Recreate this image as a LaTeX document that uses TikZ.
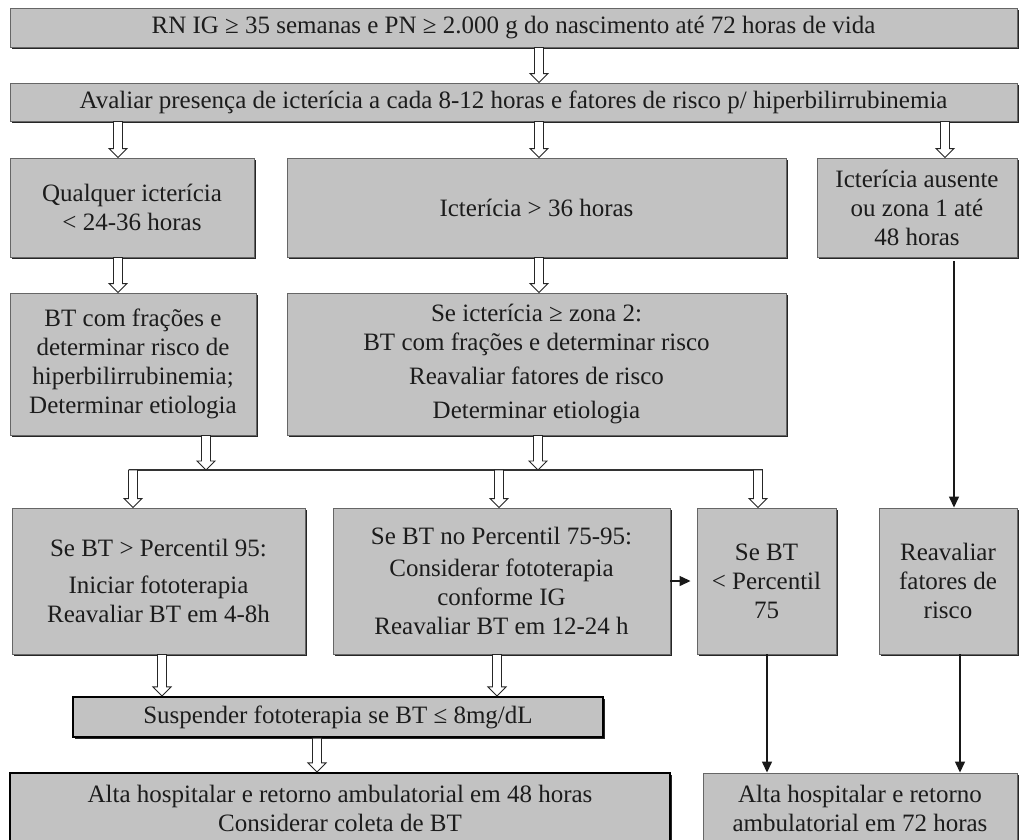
\documentclass[tikz,border=0pt]{standalone}
\usepackage{fontspec}
\setmainfont{Liberation Serif}
\usetikzlibrary{arrows.meta,calc,shadows}
\definecolor{boxgray}{RGB}{194,194,194}
\definecolor{txt}{RGB}{28,28,28}
\begin{document}
\begin{tikzpicture}[x=1pt,y=1pt,
  box/.style={draw=black!60, line width=0.9pt, fill=boxgray, inner sep=2pt,
    align=center, text=txt, font=\fontsize{25}{29}\selectfont,
    drop shadow={shadow xshift=2pt, shadow yshift=-2pt, fill=black!85, opacity=1}},
  boldbox/.style={box, draw=black, line width=2.2pt},
  hollow/.style={to path={let \p1=(\tikztostart), \p2=(\tikztotarget) in
     (\x1-4.5pt,\y1) -- (\x1-4.5pt,\y2+9pt) -- (\x1-9pt,\y2+9pt) -- (\x1,\y2)
     -- (\x1+9pt,\y2+9pt) -- (\x1+4.5pt,\y2+9pt) -- (\x1+4.5pt,\y1) -- cycle}},
  harrow/.style={draw=black!85, fill=white, line width=0.9pt, hollow},
  farrow/.style={draw=black!90, line width=1.3pt, -{Triangle[width=10pt,length=11pt]}},
  joinline/.style={draw=black!80, line width=1.3pt}
]
\useasboundingbox (0,0) rectangle (1029,-839);
\begin{scope}
\clip (0,0) rectangle (1029,-839);
% row 1 and 2
\node[box, minimum width=1007, minimum height=39] (b1) at (513.5,-27.5)
  {RN IG ≥ 35 semanas e PN ≥ 2.000 g do nascimento até 72 horas de vida};
\node[box, minimum width=1007, minimum height=38] (b2) at (513.5,-102)
  {Avaliar presença de icterícia a cada 8-12 horas e fatores de risco p/ hiperbilirrubinemia};
% row 3
\node[box, minimum width=244, minimum height=99] (r3a) at (132,-207.5)
  {Qualquer icterícia\\< 24-36 horas};
\node[box, minimum width=499, minimum height=99] (r3b) at (536.5,-207.5)
  {Icterícia > 36 horas};
\node[box, minimum width=200, minimum height=99] (r3c) at (917,-207.5)
  {Icterícia ausente\\ou zona 1 até\\48 horas};
% row 4
\node[box, minimum width=246, minimum height=142] (r4a) at (133,-364)
  {BT com frações e\\determinar risco de\\hiperbilirrubinemia;\\Determinar etiologia};
\node[box, minimum width=499, minimum height=142] (r4b) at (536.5,-364)
  {Se icterícia ≥ zona 2:\\BT com frações e determinar risco\\[5pt]Reavaliar fatores de risco\\[5pt]Determinar etiologia};
% row 5
\node[box, minimum width=293, minimum height=146] (r5a) at (158.5,-581)
  {Se BT > Percentil 95:\\[8pt]Iniciar fototerapia\\Reavaliar BT em 4-8h};
\node[box, minimum width=337, minimum height=146] (r5b) at (501.5,-581)
  {Se BT no Percentil 75-95:\\[3pt]Considerar fototerapia\\conforme IG\\Reavaliar BT em 12-24 h};
\node[box, minimum width=139, minimum height=146] (r5c) at (766.5,-581)
  {Se BT\\< Percentil\\75};
\node[box, minimum width=138, minimum height=146] (r5d) at (948,-581)
  {Reavaliar\\fatores de\\risco};
% row 6
\node[boldbox, minimum width=530, minimum height=40] (r6) at (338,-717)
  {Suspender fototerapia se BT ≤ 8mg/dL};
% row 7
\node[boldbox, minimum width=660, minimum height=70] (r7a) at (340,-808)
  {Alta hospitalar e retorno ambulatorial em 48 horas\\Considerar coleta de BT};
\node[box, minimum width=314, minimum height=70] (r7b) at (860,-808)
  {Alta hospitalar e retorno\\ambulatorial em 72 horas};
\end{scope}
% x positions of connectors
\coordinate (xa) at (539,0);
\coordinate (xl) at (118,0);
\coordinate (xr) at (945,0);
\coordinate (xd) at (206,0);
\coordinate (xm) at (538,0);
\coordinate (j1) at (133,-470);
\coordinate (j2) at (499,-470);
\coordinate (j3) at (758,-470);
\coordinate (jl) at (128.5,-470);
\coordinate (jr) at (762.5,-470);
\coordinate (x6a) at (162,0);
\coordinate (x6b) at (497,0);
\coordinate (x7) at (317,0);
\coordinate (f1) at (954,0);
\coordinate (f3) at (767,0);
\coordinate (f4) at (960,0);
% hollow arrows
\draw[harrow] (b1.south -| xa) to (b2.north -| xa);
\draw[harrow] (b2.south -| xl) to (r3a.north -| xl);
\draw[harrow] (b2.south -| xa) to (r3b.north -| xa);
\draw[harrow] (b2.south -| xr) to (r3c.north -| xr);
\draw[harrow] (r3a.south -| xl) to (r4a.north -| xl);
\draw[harrow] (r3b.south -| xa) to (r4b.north -| xa);
\draw[joinline] (jl) -- (jr);
\draw[harrow] (r4a.south -| xd) to (jl -| xd);
\draw[harrow] (r4b.south -| xm) to (jl -| xm);
\draw[harrow] (j1) to (r5a.north -| j1);
\draw[harrow] (j2) to (r5b.north -| j2);
\draw[harrow] (j3) to (r5c.north -| j3);
\draw[harrow] (r5a.south -| x6a) to (r6.north -| x6a);
\draw[harrow] (r5b.south -| x6b) to (r6.north -| x6b);
\draw[harrow] (r6.south -| x7) to (r7a.north -| x7);
% filled arrows
\draw[farrow] ([yshift=-4pt]r3c.south -| f1) -- (r5d.north -| f1);
\draw[farrow] (r5b.east) -- ([xshift=-6pt]r5c.west);
\draw[farrow] (r5c.south -| f3) -- (r7b.north -| f3);
\draw[farrow] (r5d.south -| f4) -- (r7b.north -| f4);
\end{tikzpicture}
\end{document}
